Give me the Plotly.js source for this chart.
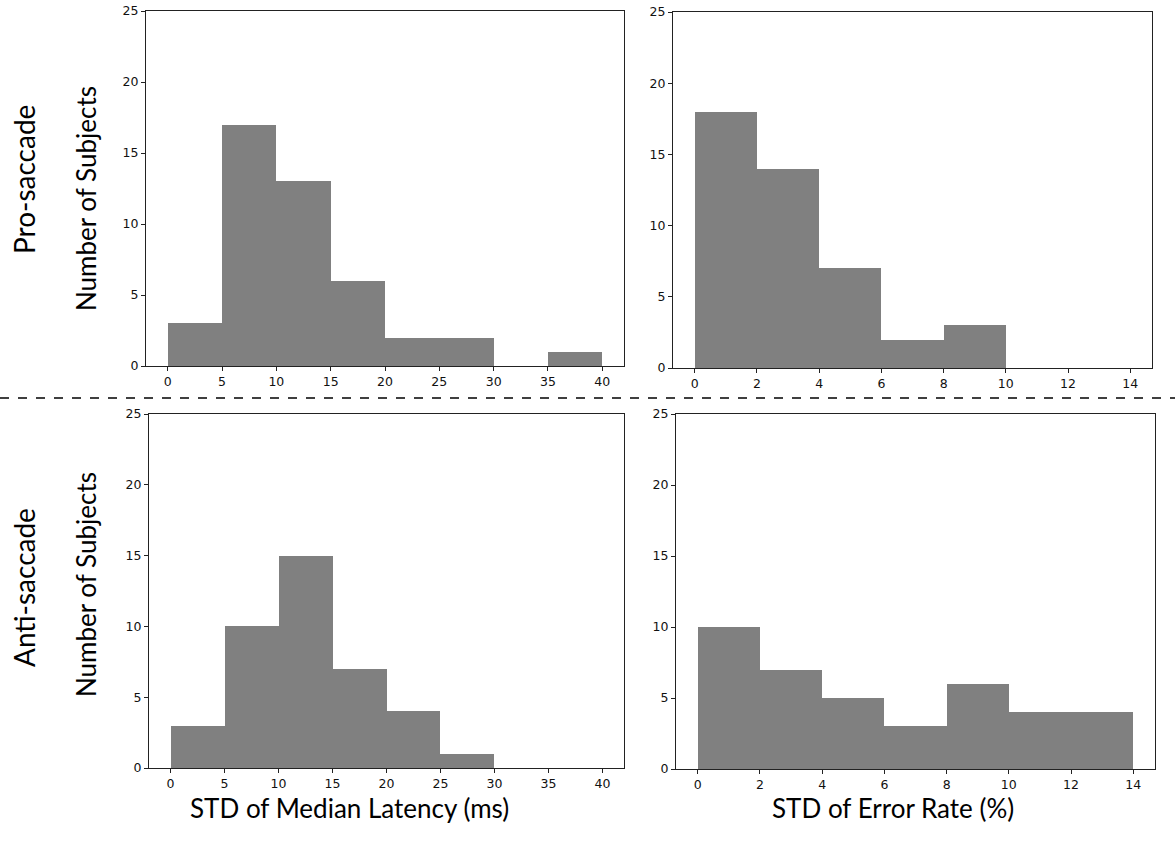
<!DOCTYPE html>
<html><head><meta charset="utf-8">
<script src="https://cdn.plot.ly/plotly-3.0.1.min.js"></script>
<style>html,body{margin:0;padding:0;background:#fff}#plot{width:1175px;height:842px}</style>
</head><body><div id="plot"></div>
<script>
// Bin edges
const latencyEdges = [0, 5, 10, 15, 20, 25, 30, 35, 40];
const errorEdges = [0, 2, 4, 6, 8, 10, 12, 14];
// Counts
const proLatency = [3, 17, 13, 6, 2, 2, 0, 1];
const proError = [18, 14, 7, 2, 3, 0, 0];
const antiLatency = [3, 10, 15, 7, 4, 1, 0, 0];
const antiError = [10, 7, 5, 3, 6, 4, 4];
// Labels
const rowLabels = ["Pro-saccade", "Anti-saccade"];
const yLabel = "Number of Subjects";
const xLabels = ["STD of Median Latency (ms)", "STD of Error Rate (%)"];

function histTrace(edges, counts, xa, ya) {
  const centers = counts.map((_, i) => (edges[i] + edges[i + 1]) / 2);
  const widths = counts.map((_, i) => edges[i + 1] - edges[i]);
  return {type: 'bar', x: centers, y: counts, width: widths, xaxis: xa, yaxis: ya,
    marker: {color: '#808080', line: {width: 0}}, hoverinfo: 'x+y', showlegend: false};
}

const W = 1175, H = 842;
const px = (a, b) => [a / W, b / W];
const py = (top, bottom) => [1 - bottom / H, 1 - top / H];

const data = [
  histTrace(latencyEdges, proLatency, 'x', 'y'),
  histTrace(errorEdges, proError, 'x2', 'y2'),
  histTrace(latencyEdges, antiLatency, 'x3', 'y3'),
  histTrace(errorEdges, antiError, 'x4', 'y4')
];

const tickFont = {family: 'DejaVu Sans', size: 12.5, color: '#111'};
function xax(domain, range, dtick, anchor) {
  return {domain, range, dtick, tick0: 0, anchor, showgrid: false, zeroline: false,
    showline: true, mirror: true, linecolor: '#222', linewidth: 1,
    ticks: 'outside', ticklen: 4, tickcolor: '#222', tickfont: tickFont};
}
function yax(domain, anchor) {
  return {domain, range: [0, 25], dtick: 5, tick0: 0, anchor, showgrid: false, zeroline: false,
    showline: true, mirror: true, linecolor: '#222', linewidth: 1,
    ticks: 'outside', ticklen: 4, tickcolor: '#222', tickfont: tickFont};
}

const bigFont = {family: 'Lato, "Open Sans", sans-serif', size: 26, color: '#000'};
function ann(text, x, y, angle, size) {
  return {text, x: x / W, y: 1 - y / H, xref: 'paper', yref: 'paper', showarrow: false,
    textangle: angle, font: Object.assign({}, bigFont, size ? {size} : {}), xanchor: 'center', yanchor: 'middle'};
}

const layout = {
  width: W, height: H, margin: {l: 0, r: 0, t: 0, b: 0},
  paper_bgcolor: '#fff', plot_bgcolor: '#fff', bargap: 0,
  xaxis: xax(px(146, 624), [-2, 42], 5, 'y'),
  yaxis: yax(py(11, 366), 'x'),
  xaxis2: xax(px(673, 1152), [-0.7, 14.7], 2, 'y2'),
  yaxis2: yax(py(12, 368), 'x2'),
  xaxis3: xax(px(149, 624), [-2, 42], 5, 'y3'),
  yaxis3: yax(py(414, 768), 'x3'),
  xaxis4: xax(px(676, 1155), [-0.7, 14.7], 2, 'y4'),
  yaxis4: yax(py(414, 769), 'x4'),
  shapes: [{type: 'line', xref: 'paper', yref: 'paper', x0: 0, x1: 1,
    y0: 1 - 398 / H, y1: 1 - 398 / H, line: {color: '#000', width: 1.5, dash: 'dash'}}],
  annotations: [
    ann(rowLabels[0], 24, 180, -90, 28),
    ann(yLabel, 86, 199, -90),
    ann(rowLabels[1], 24, 588, -90, 28),
    ann(yLabel, 86, 585, -90),
    ann(xLabels[0], 349, 808, 0),
    ann(xLabels[1], 893, 808, 0)
  ]
};

Plotly.newPlot('plot', data, layout, {staticPlot: true});
</script></body></html>
